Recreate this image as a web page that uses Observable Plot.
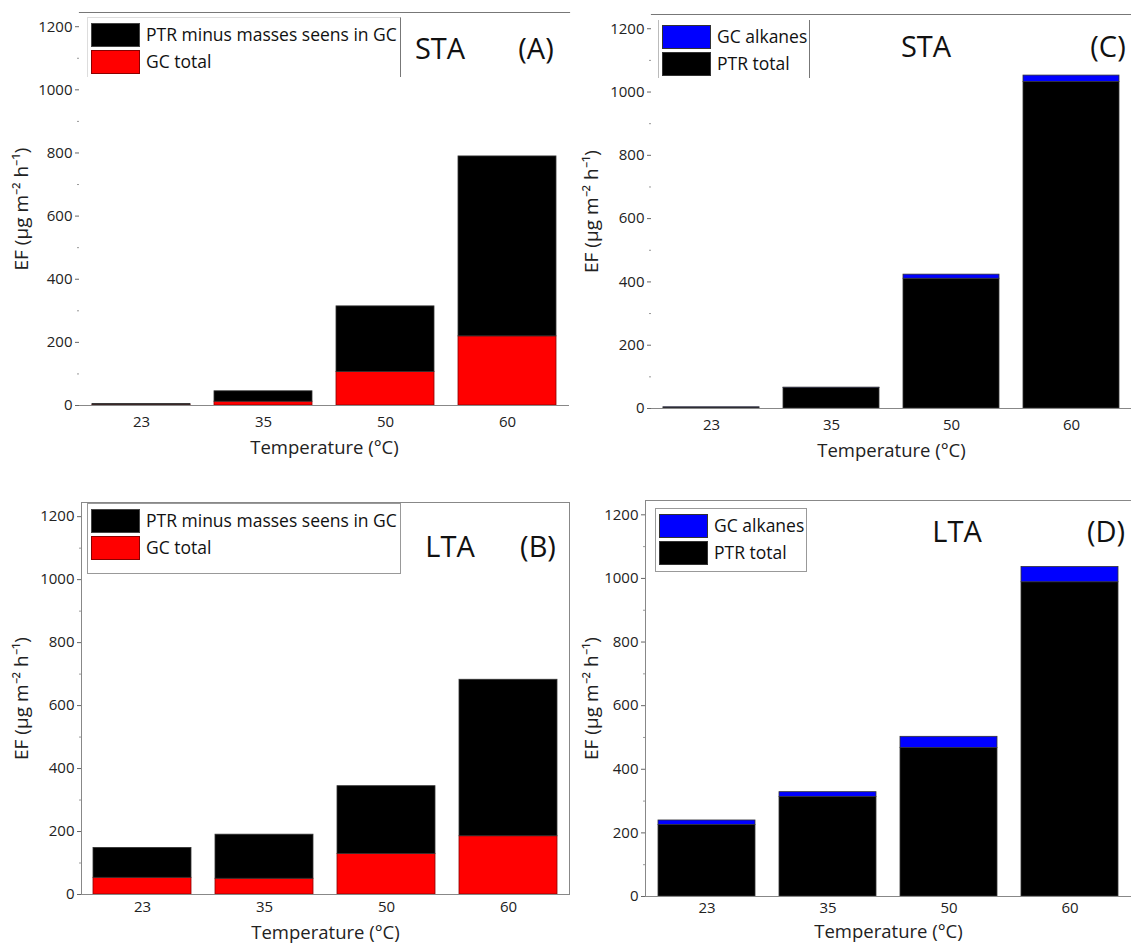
<!DOCTYPE html>
<html>
<head>
<meta charset="utf-8">
<script src="https://cdn.jsdelivr.net/npm/d3@7"></script>
<script src="https://cdn.jsdelivr.net/npm/@observablehq/plot@0.6"></script>
<style>
  html, body { margin: 0; padding: 0; background: #fff; }
  #root { position: relative; width: 1131px; height: 943px; font-family: "Open Sans", sans-serif; color: #111; overflow: hidden; }
  .panel { position: absolute; }
  .legend { position: absolute; font-size: 17.5px; line-height: 1; }
  .legend .row { display: flex; align-items: center; height: 27px; }
  .legend .sw { width: 49px; height: 24px; box-sizing: border-box; border: 1px solid #444; margin-right: 6px; }
  .tag { position: absolute; font-size: 29px; line-height: 1; transform: translate(-50%, -50%); white-space: nowrap; }
</style>
</head>
<body>
<div id="root"></div>
<script>
// ---- data ----
const temps = ["23", "35", "50", "60"];
// Panel A (STA) stacked: GC total (bottom) + PTR minus masses seen in GC (top)
const staGC = [2, 12, 106, 219];
const staPTRminus = [3, 33, 208, 570];
// Panel B (LTA)
const ltaGC = [53, 50, 129, 185];
const ltaPTRminus = [95, 140, 215, 497];
// Panel C (STA) stacked: PTR total (bottom) + GC alkanes (top)
const staPTRtotal = [3, 65, 410, 1032];
const staAlkanes = [0.5, 1, 13, 20];
// Panel D (LTA)
const ltaPTRtotal = [225, 313, 467, 988];
const ltaAlkanes = [14, 15, 35, 48];

const yTicks = [0, 200, 400, 600, 800, 1000, 1200];
const yMinorTicks = [100, 300, 500, 700, 900, 1100];
const seriesGC = "GC total";
const seriesPTRminus = "PTR minus masses seens in GC";
const seriesPTRtotal = "PTR total";
const seriesAlk = "GC alkanes";
const yTitle = "EF (µg m⁻² h⁻¹)";
const xTitle = "Temperature (°C)";

function longData(bottomName, bottomVals, topName, topVals) {
  const out = [];
  temps.forEach((t, i) => {
    out.push({temp: t, series: bottomName, value: bottomVals[i]});
    out.push({temp: t, series: topName, value: topVals[i]});
  });
  return out;
}

const root = document.getElementById("root");

function makePanel(cfg) {
  const data = longData(cfg.bottom[0], cfg.bottom[1], cfg.top[0], cfg.top[1]);
  const marks = [];
  if (cfg.fullFrame) {
    marks.push(Plot.frame({stroke: "#888", strokeWidth: 1}));
  } else {
    marks.push(Plot.frame({anchor: "top", stroke: "#777", strokeWidth: 1.2}));
  }
  marks.push(
    Plot.barY(data, Plot.stackY({
      x: "temp", y: "value", fill: "series",
      order: [cfg.bottom[0], cfg.top[0]],
      stroke: d => d.series === seriesGC ? "#8a0000" : "#333",
      strokeWidth: 0.8
    })),
    Plot.ruleY([0], {stroke: "#888", strokeWidth: 1.2}),
    // major y ticks with labels
    Plot.axisY({ticks: yTicks, tickSize: 4, tickPadding: 3, tickFormat: d => String(d),
      label: null, fontSize: 15, stroke: "#666"}),
    // minor y ticks
    Plot.axisY({ticks: yMinorTicks, tickSize: 2, tickFormat: () => "", label: null, stroke: "#999"}),
    // y title
    Plot.axisY({ticks: [], tickSize: 0, label: yTitle, labelAnchor: "center", labelArrow: "none",
      labelOffset: cfg.ml - 14, fontSize: 19}),
    // x tick labels
    Plot.axisX({tickSize: 0, tickPadding: cfg.xtp, label: null, fontSize: 15}),
    // x title
    Plot.axisX({ticks: [], tickSize: 0, label: xTitle, labelAnchor: "center", labelArrow: "none",
      labelOffset: cfg.xlo, fontSize: 18.5})
  );
  const p = Plot.plot({
    width: cfg.width, height: cfg.height,
    marginLeft: cfg.ml, marginRight: cfg.mr, marginTop: cfg.mt, marginBottom: cfg.mb,
    x: {domain: temps, paddingInner: 0.2, paddingOuter: 0.1},
    y: {domain: [0, 1245]},
    color: {domain: cfg.colorDomain, range: cfg.colorRange},
    style: {fontFamily: "Open Sans, sans-serif", fontSize: "15px", color: "#222", background: "transparent", overflow: "visible"},
    marks
  });
  const wrap = document.createElement("div");
  wrap.className = "panel";
  wrap.style.left = cfg.left + "px";
  wrap.style.top = cfg.top0 + "px";
  wrap.appendChild(p);
  root.appendChild(wrap);

  // legend
  const lg = document.createElement("div");
  lg.className = "legend";
  lg.style.left = cfg.legend.left + "px";
  lg.style.top = cfg.legend.top + "px";
  lg.style.width = cfg.legend.width + "px";
  lg.style.height = cfg.legend.height + "px";
  lg.style.boxSizing = "border-box";
  lg.style.padding = "3px 0 0 3px";
  if (cfg.legend.border === "box") lg.style.border = "1px solid #999";
  else if (cfg.legend.border === "sides") { lg.style.borderLeft = "1px solid #bbb"; lg.style.borderRight = "1.5px solid #777"; }
  else if (cfg.legend.border === "right") { lg.style.borderRight = "1.5px solid #777"; lg.style.borderLeft = "1px solid #ddd"; lg.style.borderTop = "1px solid #ddd"; }
  cfg.legend.items.forEach(([name, color, border]) => {
    const row = document.createElement("div");
    row.className = "row";
    const sw = document.createElement("div");
    sw.className = "sw";
    sw.style.background = color;
    sw.style.borderColor = border;
    const tx = document.createElement("span");
    tx.textContent = name;
    row.appendChild(sw); row.appendChild(tx);
    lg.appendChild(row);
  });
  root.appendChild(lg);

  cfg.tags.forEach(([txt, x, y]) => {
    const t = document.createElement("div");
    t.className = "tag";
    t.textContent = txt;
    t.style.left = x + "px";
    t.style.top = y + "px";
    root.appendChild(t);
  });
}

const redBlackDomain = [seriesGC, seriesPTRminus];
const redBlackRange = ["#ff0000", "#000000"];
const blueBlackDomain = [seriesPTRtotal, seriesAlk];
const blueBlackRange = ["#000000", "#0000ff"];

// A
makePanel({
  left: 0, top0: 0, width: 570, height: 470, ml: 79, mr: 1, mt: 12, mb: 65, xlo: 48, xtp: 11,
  bottom: [seriesGC, staGC], top: [seriesPTRminus, staPTRminus],
  colorDomain: redBlackDomain, colorRange: redBlackRange, fullFrame: false,
  legend: {left: 87, top: 17, width: 314, height: 60, border: "right",
    items: [[seriesPTRminus, "#000", "#444"], [seriesGC, "#ff0000", "#8a0000"]]},
  tags: [["STA", 440, 47], ["(A)", 536, 47]]
});
// C
makePanel({
  left: 570, top0: 0, width: 561, height: 470, ml: 81, mr: 0, mt: 14, mb: 62, xlo: 48, xtp: 11,
  bottom: [seriesPTRtotal, staPTRtotal], top: [seriesAlk, staAlkanes],
  colorDomain: blueBlackDomain, colorRange: blueBlackRange, fullFrame: false,
  legend: {left: 658, top: 20, width: 152, height: 58, border: "sides",
    items: [[seriesAlk, "#0000ff", "#333"], [seriesPTRtotal, "#000", "#333"]]},
  tags: [["STA", 926, 45], ["(C)", 1108, 45]]
});
// B
makePanel({
  left: 0, top0: 470, width: 570, height: 473, ml: 81, mr: 1, mt: 32, mb: 49, xlo: 44, xtp: 7,
  bottom: [seriesGC, ltaGC], top: [seriesPTRminus, ltaPTRminus],
  colorDomain: redBlackDomain, colorRange: redBlackRange, fullFrame: true,
  legend: {left: 87, top: 503, width: 314, height: 71, border: "box",
    items: [[seriesPTRminus, "#000", "#444"], [seriesGC, "#ff0000", "#8a0000"]]},
  tags: [["LTA", 450, 545], ["(B)", 538, 545]]
});
// D
makePanel({
  left: 570, top0: 470, width: 561, height: 473, ml: 75, mr: 0, mt: 30, mb: 47, xlo: 41, xtp: 6,
  bottom: [seriesPTRtotal, ltaPTRtotal], top: [seriesAlk, ltaAlkanes],
  colorDomain: blueBlackDomain, colorRange: blueBlackRange, fullFrame: true,
  legend: {left: 655, top: 508, width: 152, height: 64, border: "box",
    items: [[seriesAlk, "#0000ff", "#333"], [seriesPTRtotal, "#000", "#333"]]},
  tags: [["LTA", 957, 530], ["(D)", 1106, 530]]
});
</script>
</body>
</html>
